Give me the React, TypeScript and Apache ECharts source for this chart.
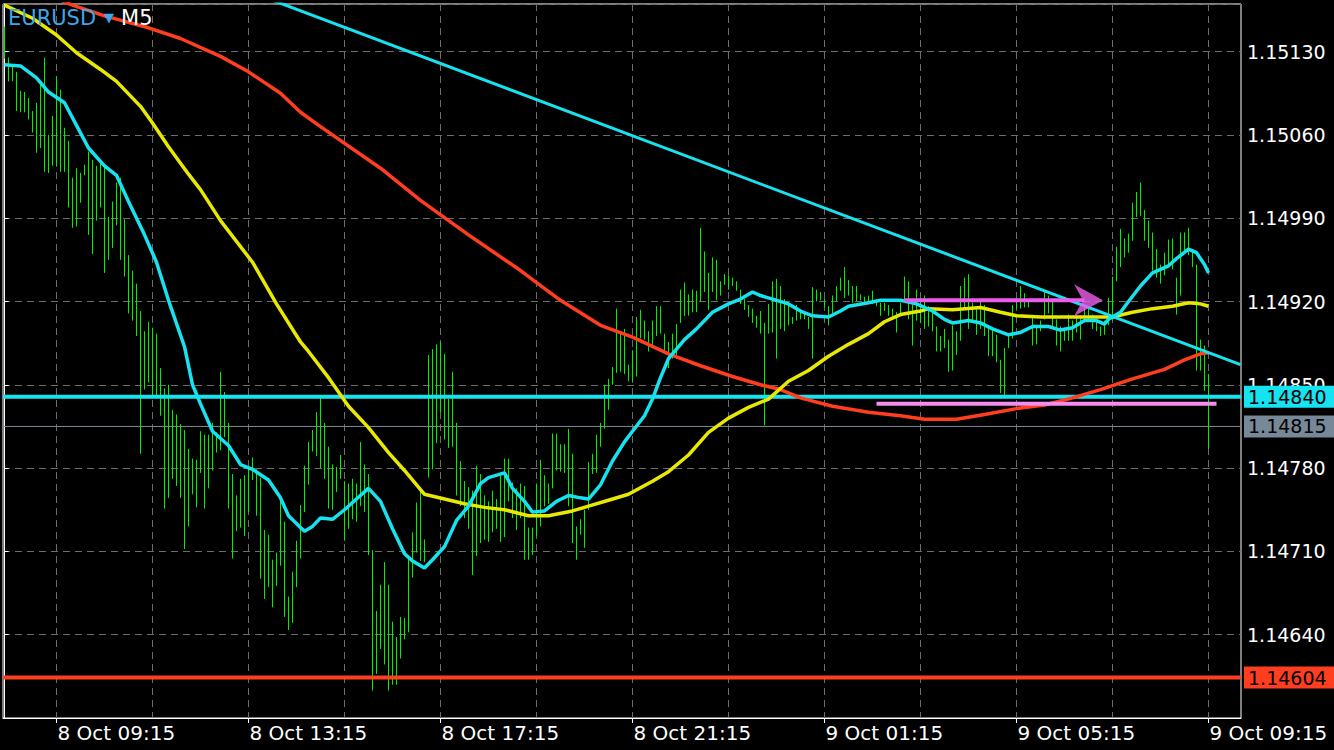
import React, { useEffect, useRef } from "react";
import * as echarts from "echarts";

const FONT = "DejaVu Sans";
const symbolName = "EURUSD";
const timeframe = "M5";
const firstBar = { day: 8, minutes: 8 * 60 + 10 };
const barMinutes = 5;

const highs = [
  1.15151, 1.15125, 1.15118, 1.15113, 1.15097, 1.15096, 1.15091, 1.1508, 1.15087, 1.15102,
  1.15125, 1.1506, 1.15076, 1.15109, 1.15098, 1.15066, 1.15055, 1.15024, 1.15032, 1.15028,
  1.15035, 1.15046, 1.15039, 1.15034, 1.15037, 1.15034, 1.14991, 1.15004, 1.1502, 1.15024,
  1.14989, 1.14959, 1.14946, 1.14935, 1.14912, 1.14895, 1.14903, 1.14898, 1.14893, 1.14864,
  1.14847, 1.1485, 1.14829, 1.14825, 1.14817, 1.14812, 1.14796, 1.14788, 1.14787, 1.14811,
  1.14808, 1.14808, 1.14818, 1.1481, 1.14861, 1.14844, 1.14818, 1.14775, 1.14757, 1.14771,
  1.14774, 1.14781, 1.14789, 1.14779, 1.14772, 1.14728, 1.14724, 1.14703, 1.14709, 1.14754,
  1.14735, 1.14672, 1.14693, 1.14719, 1.14749, 1.14782, 1.14802, 1.14812, 1.14827, 1.14839,
  1.14818, 1.14798, 1.14783, 1.14781, 1.14791, 1.14769, 1.14767, 1.14771, 1.14767, 1.14802,
  1.14783, 1.14775, 1.14711, 1.1466, 1.14682, 1.14701, 1.14682, 1.14651, 1.14638, 1.14655,
  1.14654, 1.14706, 1.14726, 1.14751, 1.14761, 1.1472, 1.14875, 1.1488, 1.14884, 1.14886,
  1.14876, 1.14838, 1.14861, 1.14818, 1.14786, 1.14769, 1.14764, 1.14761, 1.14782, 1.14775,
  1.14757, 1.14752, 1.14761, 1.14754, 1.14776, 1.14788, 1.14788, 1.14768, 1.14763, 1.14767,
  1.14765, 1.1473, 1.1473, 1.14767, 1.14787, 1.14774, 1.14767, 1.14809, 1.14809, 1.148,
  1.148, 1.14813, 1.14792, 1.14731, 1.14737, 1.14745, 1.14785, 1.14792, 1.14808, 1.14818,
  1.1485, 1.14855, 1.14865, 1.14914, 1.14895, 1.14897, 1.14867, 1.14879, 1.14907, 1.14913,
  1.14904, 1.14895, 1.14904, 1.14916, 1.14916, 1.14893, 1.14886, 1.14893, 1.14901, 1.1493,
  1.14936, 1.14926, 1.1493, 1.14929, 1.14982, 1.14962, 1.14944, 1.14957, 1.14955, 1.14937,
  1.14943, 1.14942, 1.1494, 1.14937, 1.1493, 1.14922, 1.14917, 1.14914, 1.14908, 1.14912,
  1.14902, 1.14918, 1.14937, 1.14939, 1.14933, 1.14922, 1.14919, 1.14907, 1.14917, 1.14912,
  1.14911, 1.14907, 1.14932, 1.1493, 1.14928, 1.14922, 1.14916, 1.14925, 1.14933, 1.1494,
  1.14949, 1.14938, 1.14933, 1.14933, 1.14926, 1.14924, 1.14925, 1.14929, 1.14922, 1.14919,
  1.14919, 1.14917, 1.14914, 1.14911, 1.14919, 1.14941, 1.14937, 1.14919, 1.1493, 1.1492,
  1.14925, 1.14916, 1.14912, 1.14899, 1.14891, 1.14897, 1.14888, 1.149, 1.14895, 1.14933,
  1.1494, 1.14943, 1.14919, 1.14914, 1.1492, 1.14917, 1.14898, 1.14897, 1.14892, 1.14871,
  1.14881, 1.14892, 1.14917, 1.14921, 1.14933, 1.14927, 1.1492, 1.14906, 1.14899, 1.14904,
  1.14928, 1.14925, 1.14922, 1.14905, 1.14899, 1.14898, 1.14909, 1.14904, 1.14908, 1.14906,
  1.14915, 1.14914, 1.14909, 1.14905, 1.14899, 1.14904, 1.14923, 1.14941, 1.14966, 1.14981,
  1.14973, 1.14977, 1.15003, 1.15012, 1.1502, 1.14997, 1.14988, 1.14978, 1.14964, 1.14951,
  1.14961, 1.14972, 1.14973, 1.1494, 1.14978, 1.14978, 1.14982, 1.14964, 1.14951, 1.14888,
  1.14883, 1.14859,
];

const lows = [
  1.15124, 1.15105, 1.15105, 1.1508, 1.15079, 1.15079, 1.15073, 1.15062, 1.15045, 1.15049,
  1.15029, 1.15028, 1.15034, 1.15034, 1.15029, 1.15029, 1.14999, 1.14982, 1.14983, 1.15003,
  1.15026, 1.14976, 1.1496, 1.14988, 1.14999, 1.14944, 1.14955, 1.14965, 1.14984, 1.14955,
  1.14941, 1.1491, 1.14904, 1.14891, 1.14792, 1.14846, 1.14852, 1.14839, 1.14841, 1.14824,
  1.14746, 1.14755, 1.14771, 1.14765, 1.14755, 1.14712, 1.14731, 1.14758, 1.14747, 1.14776,
  1.14746, 1.14763, 1.14778, 1.14793, 1.14795, 1.14806, 1.14746, 1.14704, 1.14727, 1.1473,
  1.14723, 1.14743, 1.1477, 1.1474, 1.14687, 1.1467, 1.1468, 1.14663, 1.14681, 1.14698,
  1.14655, 1.14644, 1.1465, 1.1468, 1.14704, 1.14743, 1.14766, 1.14794, 1.1479, 1.1478,
  1.14771, 1.14746, 1.14745, 1.1476, 1.14771, 1.14719, 1.14729, 1.14737, 1.14735, 1.14748,
  1.14743, 1.14707, 1.14593, 1.14607, 1.14628, 1.14615, 1.14593, 1.14598, 1.14598, 1.1462,
  1.14636, 1.14642, 1.14688, 1.14709, 1.14702, 1.14701, 1.14772, 1.14779, 1.14801, 1.14827,
  1.14804, 1.14797, 1.14798, 1.14757, 1.14748, 1.14738, 1.14729, 1.1469, 1.14706, 1.14717,
  1.1472, 1.14718, 1.14726, 1.14729, 1.14718, 1.14722, 1.14752, 1.14738, 1.14728, 1.14738,
  1.14703, 1.14703, 1.14707, 1.14723, 1.14731, 1.14748, 1.1475, 1.14763, 1.14778, 1.14777,
  1.14776, 1.14748, 1.14717, 1.14703, 1.14724, 1.14713, 1.14745, 1.14775, 1.14776, 1.14798,
  1.14813, 1.14829, 1.1485, 1.1486, 1.14861, 1.14859, 1.14853, 1.14853, 1.14857, 1.14889,
  1.14888, 1.14878, 1.14883, 1.14891, 1.14893, 1.14876, 1.14864, 1.14872, 1.14872, 1.14902,
  1.14908, 1.14908, 1.14911, 1.14911, 1.1492, 1.14928, 1.14913, 1.14928, 1.14921, 1.14925,
  1.14934, 1.1493, 1.14933, 1.14929, 1.14918, 1.14913, 1.14907, 1.14902, 1.14898, 1.14893,
  1.14816, 1.14893, 1.14894, 1.14872, 1.14897, 1.14895, 1.149, 1.14901, 1.14904, 1.14905,
  1.14905, 1.14897, 1.14872, 1.1492, 1.14921, 1.14915, 1.149, 1.1491, 1.1492, 1.14929,
  1.14923, 1.14925, 1.14919, 1.1492, 1.14921, 1.14918, 1.14918, 1.14918, 1.14916, 1.14908,
  1.14912, 1.14908, 1.14906, 1.14894, 1.14908, 1.1492, 1.14905, 1.14883, 1.14904, 1.14902,
  1.14897, 1.14899, 1.14895, 1.14878, 1.14878, 1.14881, 1.14861, 1.14862, 1.14875, 1.14887,
  1.14915, 1.14897, 1.14904, 1.14892, 1.14897, 1.14891, 1.14874, 1.14874, 1.14869, 1.14843,
  1.1484, 1.14881, 1.14889, 1.14914, 1.14914, 1.14915, 1.14915, 1.14883, 1.14884, 1.14895,
  1.14905, 1.1491, 1.14898, 1.14883, 1.14878, 1.14887, 1.14887, 1.14887, 1.14894, 1.14888,
  1.14904, 1.14905, 1.14897, 1.14895, 1.14891, 1.14892, 1.149, 1.14904, 1.14937, 1.14949,
  1.14957, 1.14961, 1.14971, 1.14991, 1.14992, 1.14971, 1.14965, 1.14946, 1.1494, 1.14935,
  1.14942, 1.14949, 1.14947, 1.14909, 1.14925, 1.14961, 1.14959, 1.14949, 1.14862, 1.14862,
  1.14845, 1.14796,
];

// [bar index, price]
const maFast = [
  [0, 1.15119], [4, 1.15118], [8, 1.15108], [11, 1.15096], [15, 1.15087], [18, 1.15068],
  [21, 1.15049], [25, 1.15034], [28, 1.15026], [31, 1.15004], [35, 1.14976], [38, 1.14953],
  [41, 1.14921], [45, 1.14882], [47, 1.1485], [49, 1.14834], [52, 1.14811], [56, 1.14799],
  [59, 1.14783], [62, 1.14779], [66, 1.1477], [69, 1.14755], [71, 1.1474], [74, 1.1473],
  [75, 1.14727], [77, 1.14731], [79, 1.14738], [82, 1.14737], [85, 1.14745], [88, 1.14754],
  [91, 1.14763], [94, 1.14752], [97, 1.14729], [100, 1.14708], [102, 1.14702], [105, 1.14696],
  [107, 1.14703], [110, 1.14714], [113, 1.14736], [116, 1.14748], [119, 1.14767], [121, 1.14772],
  [125, 1.14776], [127, 1.14763], [130, 1.14752], [132, 1.14743], [135, 1.14744], [138, 1.14752],
  [141, 1.14757], [144, 1.14755], [146, 1.14754], [149, 1.14766], [152, 1.14786], [155, 1.14802],
  [157, 1.14811], [160, 1.14824], [162, 1.14838], [164, 1.14856], [166, 1.14872], [170, 1.14888],
  [173, 1.14897], [177, 1.14911], [181, 1.14918], [184, 1.14922], [187, 1.14928], [189, 1.14925],
  [192, 1.14922], [196, 1.14918], [199, 1.14912], [202, 1.14908], [206, 1.14907], [209, 1.14912],
  [211, 1.14916], [216, 1.14919], [219, 1.14921], [222, 1.14921], [224, 1.14921], [228, 1.14918],
  [232, 1.14912], [235, 1.14905], [237, 1.14902], [241, 1.14904], [244, 1.14902], [247, 1.14897],
  [251, 1.14892], [254, 1.14894], [257, 1.14899], [261, 1.14899], [264, 1.14896], [267, 1.14898],
  [270, 1.14904], [273, 1.14904], [275, 1.14901], [276, 1.14905], [279, 1.14911], [281, 1.1492],
  [284, 1.14933], [287, 1.14944], [291, 1.1495], [293, 1.14956], [296, 1.14964], [298, 1.14961],
  [300, 1.14951], [301, 1.14944],
];

const maMid = [
  [0, 1.15169], [7, 1.15158], [13, 1.15144], [18, 1.15129], [24, 1.15115], [28, 1.15105],
  [34, 1.15084], [37, 1.1507], [41, 1.1505], [46, 1.15027], [49, 1.15014], [54, 1.14988],
  [62, 1.14953], [68, 1.14918], [74, 1.14886], [76, 1.14878], [81, 1.14856], [86, 1.14832],
  [91, 1.14814], [96, 1.14793], [100, 1.14778], [105, 1.14758], [110, 1.14754], [115, 1.1475],
  [120, 1.14747], [125, 1.14745], [131, 1.1474], [136, 1.1474], [142, 1.14744], [146, 1.14748],
  [151, 1.14753], [156, 1.14758], [162, 1.14769], [166, 1.14777], [171, 1.14791], [176, 1.1481],
  [181, 1.14822], [186, 1.14831], [191, 1.14838], [196, 1.14853], [201, 1.14862], [206, 1.14874],
  [211, 1.14884], [216, 1.14893], [220, 1.14903], [224, 1.14909], [229, 1.14912], [231, 1.14914],
  [237, 1.14913], [244, 1.14915], [249, 1.14911], [253, 1.14908], [259, 1.14907], [266, 1.14907],
  [272, 1.14907], [277, 1.14907], [282, 1.14911], [287, 1.14914], [292, 1.14916], [296, 1.14919],
  [299, 1.14918], [301, 1.14916],
];

const maSlow = [
  [12, 1.15176], [17, 1.15169], [25, 1.1516], [36, 1.1515], [44, 1.15141], [54, 1.15126],
  [61, 1.15113], [69, 1.15095], [74, 1.15079], [79, 1.15067], [94, 1.15032], [104, 1.15005],
  [116, 1.14976], [129, 1.14946], [139, 1.14921], [149, 1.149], [157, 1.1489], [166, 1.14876],
  [174, 1.14866], [182, 1.14857], [189, 1.1485], [194, 1.14846], [199, 1.14839], [207, 1.14832],
  [216, 1.14827], [224, 1.14824], [230, 1.14821], [238, 1.14821], [245, 1.14825], [253, 1.1483],
  [260, 1.14833], [267, 1.14839], [274, 1.14846], [282, 1.14855], [290, 1.14863], [295, 1.14871],
  [299, 1.14876], [301, 1.14877],
];

const trendLine = [[60, 1.15182], [309, 1.14867]];
const pinkUpper = [[225, 1.14921], [270, 1.14921]];
const arrowPoint = [[271, 1.14921]];
const pinkLower = [[218, 1.14834], [303, 1.14834]];
const levelCyan = 1.1484;
const levelGrey = 1.14815;
const levelRed = 1.14604;

const xGridBars = [13, 37, 61, 85, 109, 133, 157, 181, 205, 229, 253, 277, 301];
const xLabelBars = [13, 61, 109, 157, 205, 253, 301];
const xMin = -0.375;
const xMax = 309.125;
const yMin = 1.1457;
const yMax = 1.1517;
const yStep = 0.0007;

const CYAN = "#16e2f0";
const YELLOW = "#e8e800";
const RED = "#ff3d1f";
const GREEN = "#00f000";
const GRID = "#6c6c6c";

function barTimeLabel(k: number) {
  const total = firstBar.minutes + barMinutes * Math.round(k);
  const day = firstBar.day + Math.floor(total / 1440);
  const m = total % 1440;
  const hh = String(Math.floor(m / 60)).padStart(2, "0");
  const mm = String(m % 60).padStart(2, "0");
  return `${day} Oct ${hh}:${mm}`;
}

export default function App() {
  const ref = useRef<HTMLDivElement>(null);
  useEffect(() => {
    document.body.style.margin = "0";
    document.body.style.background = "#000";
    const chart = echarts.init(ref.current!, null, { renderer: "svg" });
    const lineBase = {
      type: "line",
      showSymbol: false,
      symbol: "none",
      silent: true,
      clip: true,
      smooth: false,
      emphasis: { disabled: true },
      xAxisIndex: 0,
    };
    const levelSeries = (value: number, color: string, width: number, bg: string, z: number) => ({
      ...lineBase,
      z,
      data: [
        [xMin, value],
        [xMax, value],
      ],
      lineStyle: { color, width, cap: "butt" },
      endLabel: {
        show: true,
        distance: 3,
        formatter: () => value.toFixed(5),
        backgroundColor: bg,
        color: "#000",
        fontSize: 19,
        fontFamily: FONT,
        padding: [2, 8, 1, 4],
      },
    });
    chart.setOption({
      animation: false,
      backgroundColor: "#000",
      graphic: [
        {
          type: "text",
          left: 8,
          top: 7,
          z: 100,
          style: {
            text: `{a|${symbolName}}{t|▼}{b|${timeframe}}`,
            rich: {
              a: { fill: "#3ea6ea", fontSize: 21, fontFamily: FONT },
              t: { fill: "#3ea6ea", fontSize: 13, fontFamily: FONT, padding: [0, 7, 0, 8] },
              b: { fill: "#ffffff", fontSize: 21, fontFamily: FONT },
            },
          },
        },
      ],
      grid: {
        left: 3,
        right: 93,
        top: 4,
        bottom: 32,
        show: true,
        borderColor: "#ffffff",
        borderWidth: 1,
        backgroundColor: "#000",
      },
      xAxis: [
        {
          type: "value",
          min: xMin,
          max: xMax,
          position: "bottom",
          axisLine: { show: true, lineStyle: { color: "#fff", width: 1 } },
          axisTick: { show: true, length: 5, customValues: xLabelBars, lineStyle: { color: "#fff" } },
          axisLabel: {
            customValues: xLabelBars,
            formatter: (v: number) => barTimeLabel(v),
            color: "#fff",
            fontSize: 20,
            fontFamily: FONT,
            align: "left",
            margin: 5,
            padding: [0, 0, 0, 1],
          },
          splitLine: { show: false },
        },
        {
          type: "value",
          min: xMin,
          max: xMax,
          position: "bottom",
          axisLine: { show: false },
          axisTick: { show: false, customValues: xGridBars },
          axisLabel: { show: false, customValues: xGridBars },
          splitLine: { show: true, lineStyle: { color: GRID, type: [7, 5], width: 1 } },
        },
      ],
      yAxis: {
        type: "value",
        position: "right",
        min: yMin,
        max: yMax,
        interval: yStep,
        axisLine: { show: true, lineStyle: { color: "#fff", width: 1 } },
        axisTick: { show: true, length: 4, lineStyle: { color: "#fff" } },
        axisLabel: {
          color: "#fff",
          fontSize: 19,
          fontFamily: FONT,
          margin: 6,
          showMinLabel: false,
          showMaxLabel: false,
          formatter: (v: number) => v.toFixed(5),
        },
        splitLine: { show: true, lineStyle: { color: GRID, type: [7, 5], width: 1 } },
      },
      series: [
        levelSeries(levelGrey, "#7d8a99", 1, "#778899", 1),
        {
          type: "custom",
          silent: true,
          clip: true,
          z: 2,
          xAxisIndex: 0,
          encode: { x: 0, y: [1, 2] },
          data: highs.map((h, i) => [i, h, lows[i]]),
          renderItem: (params: any, api: any) => {
            const k = api.value(0);
            const p1 = api.coord([k, api.value(1)]);
            const p2 = api.coord([k, api.value(2)]);
            const x = Math.round(p1[0] - 0.5) + 0.5;
            return {
              type: "line",
              shape: { x1: x, y1: p1[1], x2: x, y2: p2[1] },
              style: { stroke: GREEN, lineWidth: 1 },
            };
          },
        },
        levelSeries(levelCyan, CYAN, 4, CYAN, 3),
        levelSeries(levelRed, RED, 4, RED, 3),
        { ...lineBase, z: 4, data: maSlow, lineStyle: { color: RED, width: 3.5 } },
        { ...lineBase, z: 4, data: maMid, lineStyle: { color: YELLOW, width: 3.5 } },
        { ...lineBase, z: 5, data: maFast, lineStyle: { color: CYAN, width: 3.5 } },
        { ...lineBase, z: 5, data: trendLine, lineStyle: { color: CYAN, width: 3 } },
        { ...lineBase, z: 6, data: pinkLower, lineStyle: { color: "#f58cf0", width: 4, cap: "butt" } },
        { ...lineBase, z: 6, data: pinkUpper, lineStyle: { color: "#ee5cee", width: 4, cap: "butt" } },
        {
          type: "scatter",
          silent: true,
          z: 7,
          xAxisIndex: 0,
          data: arrowPoint,
          symbol: "path://M0,0 L29,16 L0,32 L9,16 Z",
          symbolSize: [29, 32],
          itemStyle: { color: "#ee5cee" },
          emphasis: { disabled: true },
        },
      ],
    });
    return () => chart.dispose();
  }, []);
  return (
    <div
      ref={ref}
      style={{ position: "absolute", left: 0, top: 0, width: 1334, height: 750, background: "#000" }}
    />
  );
}
